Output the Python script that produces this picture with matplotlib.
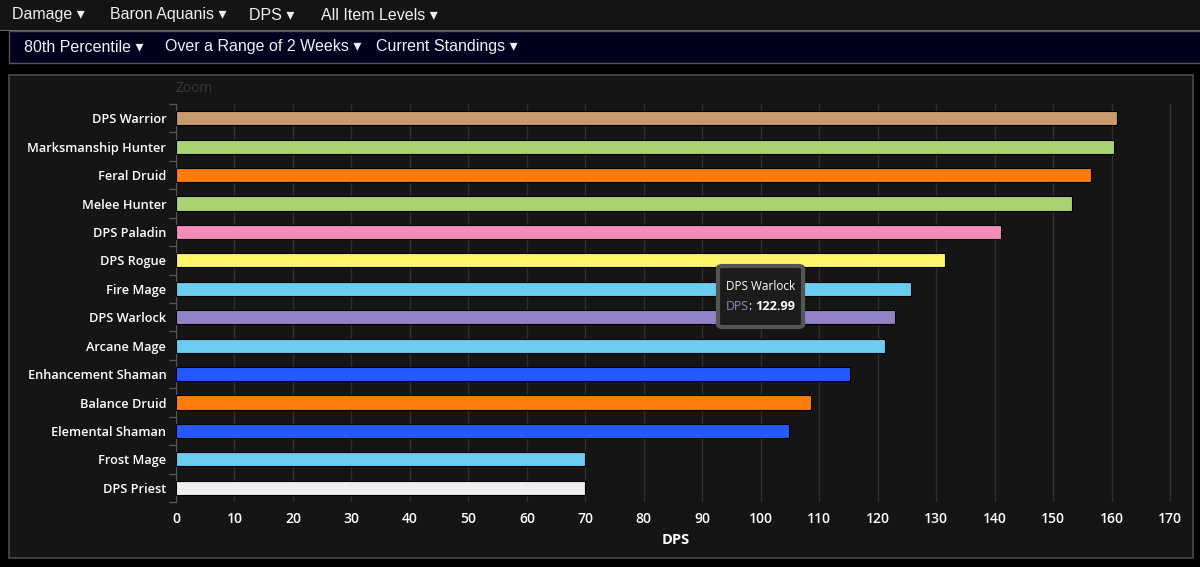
import numpy as np
import matplotlib.pyplot as plt
from matplotlib.patches import Rectangle, FancyBboxPatch

# class/spec names, top to bottom
specs = ['DPS Warrior', 'Marksmanship Hunter', 'Feral Druid', 'Melee Hunter',
         'DPS Paladin', 'DPS Rogue', 'Fire Mage', 'DPS Warlock', 'Arcane Mage',
         'Enhancement Shaman', 'Balance Druid', 'Elemental Shaman',
         'Frost Mage', 'DPS Priest']
dps = [160.9, 160.4, 156.5, 153.2, 141.1, 131.5, 125.7, 122.99, 121.3,
       115.3, 108.6, 104.8, 69.95, 69.95]
colors = ['#C69B6D', '#AAD372', '#FF7C0A', '#AAD372', '#F48CBA', '#FFF468',
          '#69CCF0', '#9482C9', '#69CCF0', '#2459FF', '#FF7C0A', '#2459FF',
          '#69CCF0', '#EEEEEE']
xticks = np.arange(0, 171, 10)

top_menu = ['Damage', 'Baron Aquanis', 'DPS', 'All Item Levels']
top_menu_x = [12, 110, 249, 321]
sub_menu = ['80th Percentile', 'Over a Range of 2 Weeks', 'Current Standings']
sub_menu_x = [24, 165, 376]

W, H = 1200, 567
fig = plt.figure(figsize=(W / 100, H / 100), dpi=100)
fig.patch.set_facecolor('#000000')

def fx(px):
    return px / W

def fy(py):
    return 1 - py / H

menu_font = ['Liberation Sans', 'DejaVu Sans']

# nav bars
fig.patches.append(Rectangle((0, fy(30)), 1, 30 / H, transform=fig.transFigure,
                             facecolor='#141414', edgecolor='none', zorder=0))
fig.patches.append(Rectangle((0, fy(31)), 1, 1 / H, transform=fig.transFigure,
                             facecolor='#666666', edgecolor='none', zorder=1))
fig.patches.append(Rectangle((fx(9), fy(63)), 1, 32 / H, transform=fig.transFigure,
                             facecolor='#00001e', edgecolor='#555555', lw=1, zorder=0))
for t, x in zip(top_menu, top_menu_x):
    fig.text(fx(x), fy(15), t + ' \u25BE', color='#f0f0f0', fontsize=11.5,
             family=menu_font, va='center', ha='left')
for t, x in zip(sub_menu, sub_menu_x):
    fig.text(fx(x), fy(47), t + ' \u25BE', color='#f0f0f0', fontsize=11.5,
             family=menu_font, va='center', ha='left')

# chart panel
fig.patches.append(Rectangle((fx(9), fy(558)), fx(1184), 483 / H, transform=fig.transFigure,
                             facecolor='#151515', edgecolor='#4a4a4a', lw=1.2, zorder=0))
fig.text(fx(176), fy(89), 'Zoom', color='#383838', fontsize=10,
         family='Open Sans', va='center', ha='left')

ax = fig.add_axes([fx(176), fy(502), 1000 / W, 398 / H])
ax.set_zorder(2)
ax.set_facecolor('#151515')
y = np.arange(len(specs))
ax.barh(y, dps, height=0.5, color=colors, edgecolor='#000000', linewidth=0.8, zorder=3)
ax.set_ylim(len(specs) - 0.5, -0.5)
ax.set_xlim(0, 171)
ax.set_yticks(y)
ax.set_yticklabels(specs, color='#ffffff', fontsize=9.2, family='Open Sans',
                   fontweight='semibold')
ax.set_yticks(np.arange(-0.5, len(specs), 1), minor=True)
ax.tick_params(axis='y', which='major', length=0, pad=7)
ax.tick_params(axis='y', which='minor', length=5, color='#555555', width=1)
ax.set_xticks(xticks)
ax.set_xticklabels([str(v) for v in xticks], color='#ffffff', fontsize=10,
                   family='Open Sans', fontweight='semibold')
ax.tick_params(axis='x', length=0, pad=7)
ax.grid(axis='x', color='#303030', linewidth=1, zorder=0)
for s in ['top', 'right', 'bottom']:
    ax.spines[s].set_visible(False)
ax.spines['left'].set_color('#555555')
ax.set_xlabel('DPS', color='#ffffff', fontsize=10.5, fontweight='bold',
              family='Open Sans', labelpad=5)

# tooltip
tip = FancyBboxPatch((fx(718), fy(327)), 85 / W, 61 / H, boxstyle='round,pad=0,rounding_size=0.004',
                     transform=fig.transFigure, facecolor='#1c1c1c', edgecolor='#555555',
                     lw=3, zorder=10)
fig.patches.append(tip)
fig.text(fx(726), fy(286), 'DPS Warlock', color='#ffffff', fontsize=8.5,
         family='Open Sans', va='center', zorder=11)
renderer = fig.canvas.get_renderer()
x0 = 726
parts = [('DPS', '#9482C9', 'normal', 8.8), (': ', '#ffffff', 'normal', 8.8),
         ('%.2f' % dps[7], '#ffffff', 'bold', 9.2)]
for s, c, w, fs in parts:
    t = fig.text(fx(x0), fy(307), s, color=c, fontsize=fs, fontweight=w,
                 family='Open Sans', va='center', ha='left', zorder=11)
    x0 += t.get_window_extent(renderer).width

fig.savefig('out.png', dpi=100, facecolor=fig.get_facecolor())
